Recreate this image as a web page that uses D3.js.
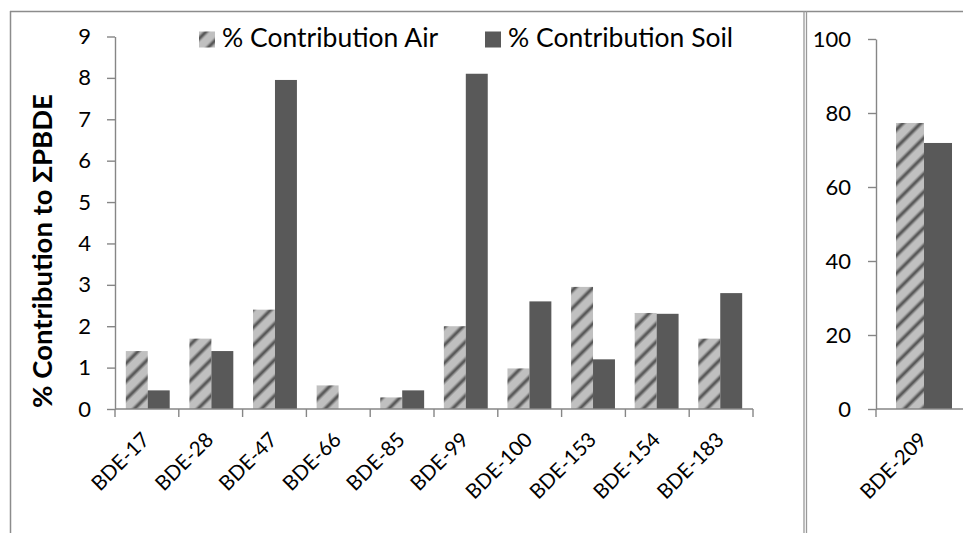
<!DOCTYPE html>
<html>
<head>
<meta charset="utf-8">
<script src="https://cdn.jsdelivr.net/npm/d3@7"></script>
<style>
  body { margin: 0; background: #fff; }
  text { font-family: Lato, "Liberation Sans", sans-serif; fill: #000; }
</style>
</head>
<body>
<div id="chart"></div>
<script>
// data
var categories = ["BDE-17", "BDE-28", "BDE-47", "BDE-66", "BDE-85", "BDE-99", "BDE-100", "BDE-153", "BDE-154", "BDE-183"];
var airValues  = [1.4, 1.7, 2.4, 0.57, 0.28, 2.0, 0.98, 2.95, 2.32, 1.7];
var soilValues = [0.45, 1.4, 7.95, 0, 0.45, 8.1, 2.6, 1.2, 2.3, 2.8];
var yTicks = [0, 1, 2, 3, 4, 5, 6, 7, 8, 9];

var rightCategories = ["BDE-209"];
var rightAir  = [77.3];
var rightSoil = [71.9];
var rightTicks = [0, 20, 40, 60, 80, 100];

var seriesNames = ["% Contribution Air", "% Contribution Soil"];

const W = 963, H = 533;
const axisColor = "#868686";
const soilColor = "#595959";
const tickFont = "22px", labelFont = "20.5px";

const svg = d3.select("#chart")
  .append("svg")
    .attr("width", W)
    .attr("height", H);

// hatch pattern for air bars
const defs = svg.append("defs");
const grad = defs.append("linearGradient").attr("id", "stripeGrad")
  .attr("x1", 0).attr("x2", 1).attr("y1", 0).attr("y2", 0);
grad.append("stop").attr("offset", "0%").attr("stop-color", "#c0c0c0");
grad.append("stop").attr("offset", "50%").attr("stop-color", "#474747");
grad.append("stop").attr("offset", "100%").attr("stop-color", "#c0c0c0");

const pat = defs.append("pattern")
  .attr("id", "hatch")
  .attr("patternUnits", "userSpaceOnUse")
  .attr("width", 12.7).attr("height", 12.7)
  .attr("patternTransform", "rotate(45)");
pat.append("rect").attr("width", 12.7).attr("height", 12.7).attr("fill", "#c0c0c0");
pat.append("rect").attr("x", 0).attr("width", 6).attr("height", 12.7).attr("fill", "url(#stripeGrad)");

// frame lines
svg.append("line").attr("x1", 10).attr("x2", W).attr("y1", 11.5).attr("y2", 11.5)
  .attr("stroke", "#8c8c8c").attr("stroke-width", 1.5);
svg.append("line").attr("x1", 10.5).attr("x2", 10.5).attr("y1", 11).attr("y2", H)
  .attr("stroke", "#8c8c8c").attr("stroke-width", 1.5);
svg.append("line").attr("x1", 804).attr("x2", 804).attr("y1", 11).attr("y2", H)
  .attr("stroke", "#999").attr("stroke-width", 1.3);
svg.append("line").attr("x1", 806.5).attr("x2", 806.5).attr("y1", 11).attr("y2", H)
  .attr("stroke", "#999").attr("stroke-width", 1.3);

// ---------- left panel ----------
const x = d3.scaleBand()
  .domain(categories)
  .range([115, 753])
  .paddingInner(0.31)
  .paddingOuter(0.17);
const xs = d3.scaleBand()
  .domain(["air", "soil"])
  .range([0, x.bandwidth()]);
const y = d3.scaleLinear()
  .domain([0, 9])
  .range([409, 36.5]);

const yAxis = svg.append("g")
  .attr("transform", "translate(115,0)")
  .call(d3.axisLeft(y).tickValues(yTicks).tickSize(8).tickSizeOuter(0).tickPadding(16));
yAxis.select(".domain").attr("stroke", axisColor).attr("stroke-width", 1.4);
yAxis.selectAll(".tick line").attr("stroke", axisColor).attr("stroke-width", 1.4);
yAxis.selectAll(".tick text").style("font-size", tickFont).attr("fill", "#000");

// bars
const groups = svg.append("g").selectAll("g")
  .data(categories)
  .join("g")
    .attr("transform", d => `translate(${x(d)},0)`);
groups.append("rect")
  .attr("x", xs("air"))
  .attr("width", xs.bandwidth())
  .attr("y", (d, i) => y(airValues[i]))
  .attr("height", (d, i) => y(0) - y(airValues[i]))
  .attr("fill", "url(#hatch)");
groups.append("rect")
  .attr("x", xs("soil"))
  .attr("width", xs.bandwidth())
  .attr("y", (d, i) => y(soilValues[i]))
  .attr("height", (d, i) => y(0) - y(soilValues[i]))
  .attr("fill", soilColor);

// x axis with ticks at category boundaries
const step = (x.range()[1] - x.range()[0]) / categories.length;
const bounds = d3.range(categories.length + 1).map(i => x.range()[0] + i * step);
svg.append("line")
  .attr("x1", x.range()[0]).attr("x2", x.range()[1])
  .attr("y1", y(0)).attr("y2", y(0))
  .attr("stroke", axisColor).attr("stroke-width", 1.4);
svg.append("g").selectAll("line")
  .data(bounds)
  .join("line")
    .attr("x1", d => d).attr("x2", d => d)
    .attr("y1", y(0)).attr("y2", y(0) + 8)
    .attr("stroke", axisColor).attr("stroke-width", 1.4);
svg.append("g").selectAll("text")
  .data(categories)
  .join("text")
    .attr("transform", (d, i) => `translate(${bounds[i] + step / 2 + 4},${y(0) + 32}) rotate(-45)`)
    .attr("text-anchor", "end")
    .style("font-size", labelFont)
    .text(d => d);

// y axis title
svg.append("text")
  .attr("transform", "translate(52,251) rotate(-90)")
  .attr("text-anchor", "middle")
  .style("font-size", "27.5px")
  .style("font-weight", "bold")
  .text("% Contribution to ΣPBDE");

// legend
const legendX = [199, 485];
seriesNames.forEach(function(name, i) {
  svg.append("rect")
    .attr("x", legendX[i]).attr("y", 31.5)
    .attr("width", 16).attr("height", 16)
    .attr("fill", i === 0 ? "url(#hatch)" : soilColor);
  svg.append("text")
    .attr("x", legendX[i] + 23).attr("y", 47)
    .style("font-size", "26.5px")
    .text(name);
});

// ---------- right panel ----------
const xr = d3.scaleBand()
  .domain(rightCategories)
  .range([876, 972])
  .paddingInner(0)
  .paddingOuter(0.357);
const xrs = d3.scaleBand()
  .domain(["air", "soil"])
  .range([0, xr.bandwidth()]);
const yr = d3.scaleLinear()
  .domain([0, 100])
  .range([409, 39]);

const yrAxis = svg.append("g")
  .attr("transform", "translate(876,0)")
  .call(d3.axisLeft(yr).tickValues(rightTicks).tickSize(8).tickSizeOuter(0).tickPadding(17));
yrAxis.select(".domain").attr("stroke", axisColor).attr("stroke-width", 1.4);
yrAxis.selectAll(".tick line").attr("stroke", axisColor).attr("stroke-width", 1.4);
yrAxis.selectAll(".tick text").style("font-size", tickFont).attr("fill", "#000");

const rgroups = svg.append("g").selectAll("g")
  .data(rightCategories)
  .join("g")
    .attr("transform", d => `translate(${xr(d)},0)`);
rgroups.append("rect")
  .attr("x", xrs("air"))
  .attr("width", xrs.bandwidth())
  .attr("y", (d, i) => yr(rightAir[i]))
  .attr("height", (d, i) => yr(0) - yr(rightAir[i]))
  .attr("fill", "url(#hatch)");
rgroups.append("rect")
  .attr("x", xrs("soil"))
  .attr("width", xrs.bandwidth())
  .attr("y", (d, i) => yr(rightSoil[i]))
  .attr("height", (d, i) => yr(0) - yr(rightSoil[i]))
  .attr("fill", soilColor);

svg.append("line")
  .attr("x1", 876).attr("x2", W)
  .attr("y1", yr(0)).attr("y2", yr(0))
  .attr("stroke", axisColor).attr("stroke-width", 1.4);
svg.append("line")
  .attr("x1", 876).attr("x2", 876)
  .attr("y1", yr(0)).attr("y2", yr(0) + 8)
  .attr("stroke", axisColor).attr("stroke-width", 1.4);
svg.append("g").selectAll("text")
  .data(rightCategories)
  .join("text")
    .attr("transform", d => `translate(${xr(d) + xr.bandwidth() / 2 + 4},${yr(0) + 32}) rotate(-45)`)
    .attr("text-anchor", "end")
    .style("font-size", labelFont)
    .text(d => d);
</script>
</body>
</html>
